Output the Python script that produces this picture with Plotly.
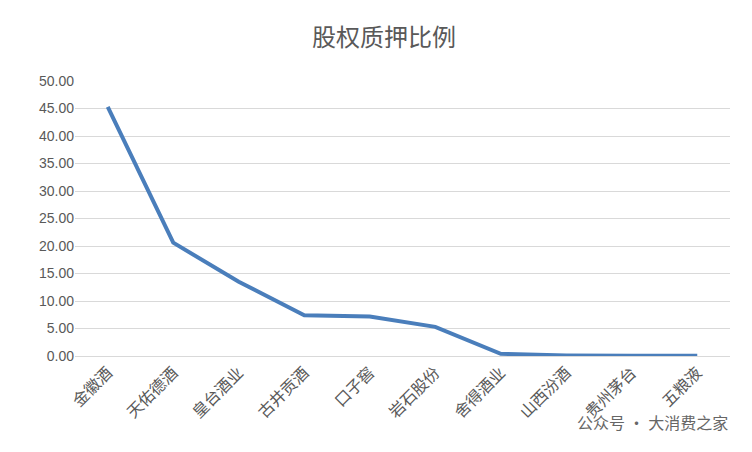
import plotly.graph_objects as go

companies = ["金徽酒", "天佑德酒", "皇台酒业", "古井贡酒", "口子窖", "岩石股份", "舍得酒业", "山西汾酒", "贵州茅台", "五粮液"]
pledge_ratio = [45.3, 20.6, 13.5, 7.4, 7.2, 5.3, 0.4, 0.1, 0.05, 0.05]

fig = go.Figure(go.Scatter(x=companies, y=pledge_ratio, mode="lines",
                           line=dict(color="#4A7EBB", width=4)))

fig.update_layout(
    width=752, height=452,
    title=dict(text="股权质押比例", x=0.5, y=0.935, yanchor="middle", xanchor="center",
               font=dict(size=24, color="#595959")),
    font=dict(family="Noto Sans CJK SC", size=16, color="#595959"),
    paper_bgcolor="white", plot_bgcolor="white",
    margin=dict(l=67, r=30, t=73, b=104),
    showlegend=False,
)
fig.update_xaxes(showgrid=False, showline=True, linecolor="#D9D9D9",
                 tickangle=-45, ticks="", range=[-0.5, 9.5])
fig.update_yaxes(range=[0, 50], dtick=5, tickformat=".2f", gridcolor="#D9D9D9",
                 zeroline=False, ticks="", tickfont=dict(family="Liberation Sans", size=14))
fig.add_annotation(text="公众号 · 大消费之家", xref="paper", yref="paper",
                   x=1.0, y=-0.29, xanchor="right", showarrow=False,
                   font=dict(size=16, color="#666666"))

fig.write_html("out.html")
